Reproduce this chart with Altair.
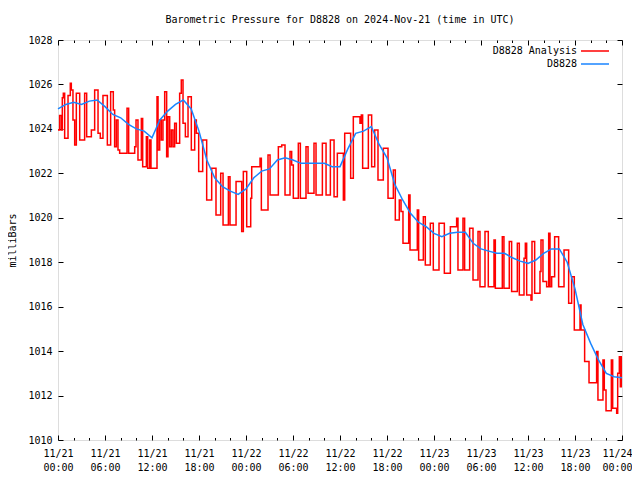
import altair as alt
import pandas as pd

# ---------------- data ----------------
# hours after 2024-11-21 00:00 UTC at which the analysis value changes
red_hours = [
    0, 0.21, 0.43, 0.55, 0.68, 0.85, 1.28, 1.57, 1.70, 1.91, 2.13, 2.34, 2.77, 3.40, 3.66,
    4.26, 4.68, 5.11, 5.40, 5.74, 6.30, 6.72, 7.06, 7.23, 7.45, 7.66, 7.87, 8.81, 9.02, 9.79,
    9.96, 10.21, 10.64, 10.81, 11.28, 11.45, 11.70, 11.87, 12.64, 12.77, 12.98, 13.19, 13.40,
    13.62, 13.87, 14.04, 14.26, 14.47, 14.68, 14.89, 15.11, 15.53, 15.74, 15.96, 16.26, 16.60,
    17.02, 17.45, 17.66, 17.96,
    18.47, 18.98, 19.62, 20.17, 20.77, 21.07, 21.75, 21.96, 22.73, 23.45, 23.66, 24.09, 24.60,
    24.73, 25.79, 25.96, 26.81, 27.07, 28.13, 28.56, 28.98, 29.62, 29.83, 30.04, 30.68, 30.94,
    31.66, 31.92, 32.68, 32.94, 33.75, 34.22, 34.77, 35.24, 35.66,
    36.43, 36.60, 37.36, 37.70, 38.55, 38.72, 38.89, 39.62, 40.04, 40.43, 40.85, 41.53, 42.13,
    42.81, 43.06, 43.57, 43.79, 44.04, 44.77, 44.94, 45.87, 46.04, 46.64, 46.89, 47.53, 47.91,
    48.64, 49.32, 50.09, 50.89, 51.06, 51.70, 51.91, 52.55, 52.98, 53.62, 53.87,
    54.51, 54.93, 55.66, 55.83, 56.72, 56.93, 57.61, 57.91, 58.64, 58.89, 59.49, 59.66, 59.83,
    60.38, 60.51, 60.85, 61.53, 61.66, 61.91, 62.38, 62.64, 62.81, 63.02, 63.40, 63.91, 64.60,
    65.19, 65.57, 65.91, 66.64, 66.77, 67.23, 67.79, 68.76, 68.93, 69.57, 69.74, 69.96, 70.64,
    70.81, 71.32, 71.45, 71.66, 71.79, 71.91, 72.0,
]
red_mb = [
    1023.95, 1024.6, 1023.95, 1025.4, 1025.6, 1023.58, 1025.5, 1026.05, 1025.75, 1024.4, 1023.28,
    1025.6, 1023.5, 1025.6, 1023.65, 1023.95, 1025.75, 1023.8, 1023.58, 1025.5, 1023.28, 1025.67,
    1024.85, 1023.2, 1024.4, 1023.05, 1022.9, 1024.93, 1022.9, 1023.2, 1024.4, 1022.6, 1024.47,
    1022.3, 1023.65, 1022.23, 1023.5, 1022.23, 1025.45, 1023.05, 1024.4, 1023.5, 1024.4, 1025.67,
    1022.75, 1024.55, 1023.2, 1023.95, 1023.2, 1024.25, 1023.35, 1025.6, 1026.2, 1024.25, 1023.65,
    1025.45, 1023.05, 1024.4, 1023.8, 1022.08,
    1023.5, 1020.8, 1022.23, 1020.13, 1022.0, 1019.68, 1021.85, 1019.68, 1021.63, 1019.38,
    1022.08, 1019.6, 1020.88, 1022.3, 1022.68, 1020.35, 1022.83, 1021.03, 1023.2, 1023.28,
    1021.03, 1022.98, 1022.38, 1020.88, 1023.35, 1020.88, 1023.2, 1021.1, 1023.35, 1021.03,
    1023.35, 1021.03, 1023.5, 1020.95, 1022.9,
    1020.8, 1023.8, 1021.78, 1024.55, 1024.25, 1024.63, 1022.23, 1024.63, 1022.3, 1023.95,
    1021.7, 1023.13, 1020.88, 1022.15, 1019.9, 1020.8, 1020.28, 1018.85, 1021.03, 1018.55,
    1020.35, 1018.1, 1020.05, 1017.88, 1019.75, 1017.65, 1019.75, 1017.5, 1019.6, 1019.98,
    1017.65, 1019.98, 1017.65, 1019.53, 1017.2, 1019.38, 1016.9,
    1019.38, 1016.9, 1019.0, 1016.83, 1019.15, 1016.83, 1018.93, 1016.68, 1018.85, 1016.53,
    1018.18, 1018.85, 1016.53, 1016.3, 1018.93, 1016.6, 1017.58, 1019.0, 1017.13, 1016.9,
    1019.3, 1016.9, 1017.35, 1019.15, 1016.9, 1018.55, 1016.15, 1017.35, 1014.95, 1016.08,
    1014.95, 1013.53, 1012.58, 1013.98, 1011.8, 1013.6, 1012.25, 1011.32, 1013.6, 1011.43,
    1011.2, 1013.0, 1013.75, 1012.4, 1013.75, 1013.75,
]

# station reading, hourly (hours 0..72)
blue_hours = list(range(73))
blue_mb = [
    1024.9, 1025.1, 1025.2, 1025.1, 1025.25, 1025.3, 1025.0, 1024.65, 1024.5, 1024.2,
    1024.0, 1023.9, 1023.6, 1024.4, 1024.8, 1025.1, 1025.3, 1024.9, 1023.9, 1022.6,
    1021.8, 1021.4, 1021.2, 1021.05, 1021.3, 1021.8, 1022.1, 1022.2, 1022.6, 1022.7,
    1022.6, 1022.45, 1022.45, 1022.45, 1022.45, 1022.3, 1022.3, 1023.1, 1023.8, 1023.9,
    1024.1, 1023.3, 1022.7, 1021.5, 1020.8, 1020.2, 1019.8, 1019.6, 1019.3, 1019.15,
    1019.3, 1019.35, 1019.35, 1018.85, 1018.6, 1018.5, 1018.4, 1018.4, 1018.2, 1018.05,
    1017.95, 1018.1, 1018.4, 1018.6, 1018.6, 1018.0, 1016.8, 1015.2, 1014.35, 1013.6,
    1013.0, 1012.85, 1012.8,
]

series = ["D8828 Analysis", "D8828"]
colors = ["#ff0000", "#1a85ff"]
major_hours = list(range(0, 73, 6))
minor_hours = [h for h in range(0, 73, 2) if h % 6]
y_ticks = list(range(1010, 1029, 2))

red_df = pd.DataFrame({"t": red_hours, "mb": red_mb, "series": series[0]})
blue_df = pd.DataFrame({"t": blue_hours, "mb": blue_mb, "series": series[1]})

FONT = "DejaVu Sans Mono"
xscale = alt.Scale(domain=[0, 72], nice=False, zero=False)
yscale = alt.Scale(domain=[1010, 1028], nice=False, zero=False)

label_expr = ("['11/' + (21 + floor(datum.value / 24)), "
              "(datum.value % 24 < 10 ? '0' : '') + (datum.value % 24) + ':00']")

common = dict(domain=False, grid=False, tickColor="black", title=None)

x_bottom = alt.Axis(orient="bottom", values=major_hours, tickSize=5, offset=-5,
                    labelExpr=label_expr, labelLineHeight=14, labelPadding=8,
                    labelFont=FONT, labelFontSize=10, labelColor="black", labelAngle=0,
                    labelAlign="center", labelBaseline="top", labelFlush=False,
                    labelOverlap=False,
                    labelOffset={"condition": {"test": "datum.value == 72", "value": -5},
                                 "value": 0},
                    **common)
x_bottom_minor = alt.Axis(orient="bottom", values=minor_hours, tickSize=2.5, offset=-2.5,
                          labels=False, **common)
x_top = alt.Axis(orient="top", values=major_hours, tickSize=5, offset=-5, labels=False, **common)
x_top_minor = alt.Axis(orient="top", values=minor_hours, tickSize=2.5, offset=-2.5,
                       labels=False, **common)
y_left = alt.Axis(orient="left", values=y_ticks, tickSize=5, offset=-5, format="d",
                  labelFont=FONT, labelFontSize=10, labelColor="black", labelPadding=6,
                  domain=False, grid=False, tickColor="black", title="milliBars",
                  titleFont=FONT, titleFontSize=10, titleFontWeight="normal",
                  titleColor="black", titlePadding=10)
y_right = alt.Axis(orient="right", values=y_ticks, tickSize=5, offset=-5, labels=False, **common)

color = alt.Color(
    "series:N",
    scale=alt.Scale(domain=series, range=colors),
    legend=alt.Legend(orient="none", legendX=532, legendY=6, title=None,
                      symbolType="M-5,0H5", symbolSize=31.36, symbolStrokeWidth=1.5,
                      labelAlign="right", labelOffset=alt.ExprRef("-23"), labelFont=FONT,
                      labelFontSize=10, labelColor="black", rowPadding=3,
                      padding=0),
)

red = alt.Chart(red_df).mark_line(interpolate="step-after", strokeWidth=1.5).encode(
    x=alt.X("t:Q", scale=xscale, axis=x_bottom),
    y=alt.Y("mb:Q", scale=yscale, axis=y_left),
    color=color,
)
blue = alt.Chart(blue_df).mark_line(strokeWidth=1.5).encode(
    x=alt.X("t:Q", scale=xscale, axis=x_top),
    y=alt.Y("mb:Q", scale=yscale, axis=y_right),
    color=color,
)
minor_b = alt.Chart(blue_df).mark_line(opacity=0).encode(
    x=alt.X("t:Q", scale=xscale, axis=x_bottom_minor),
    y=alt.Y("mb:Q", scale=yscale, axis=None),
)
minor_t = alt.Chart(blue_df).mark_line(opacity=0).encode(
    x=alt.X("t:Q", scale=xscale, axis=x_top_minor),
    y=alt.Y("mb:Q", scale=yscale, axis=None),
)

chart = (
    alt.layer(red, blue, minor_b, minor_t)
    .resolve_axis(x="independent", y="independent")
    .properties(
        width=564, height=400, autosize="none",
        padding={"left": 50, "top": 32, "right": 10, "bottom": 32},
        title=alt.Title("Barometric Pressure for D8828 on 2024-Nov-21 (time in UTC)",
                        font=FONT, fontSize=10, fontWeight="normal", color="black",
                        anchor="middle", frame="group", offset=10),
    )
    .configure_view(stroke="black", strokeWidth=1)
    .configure(background="white")
)

chart.save("out.html", embed_options={"renderer": "svg", "actions": False})
